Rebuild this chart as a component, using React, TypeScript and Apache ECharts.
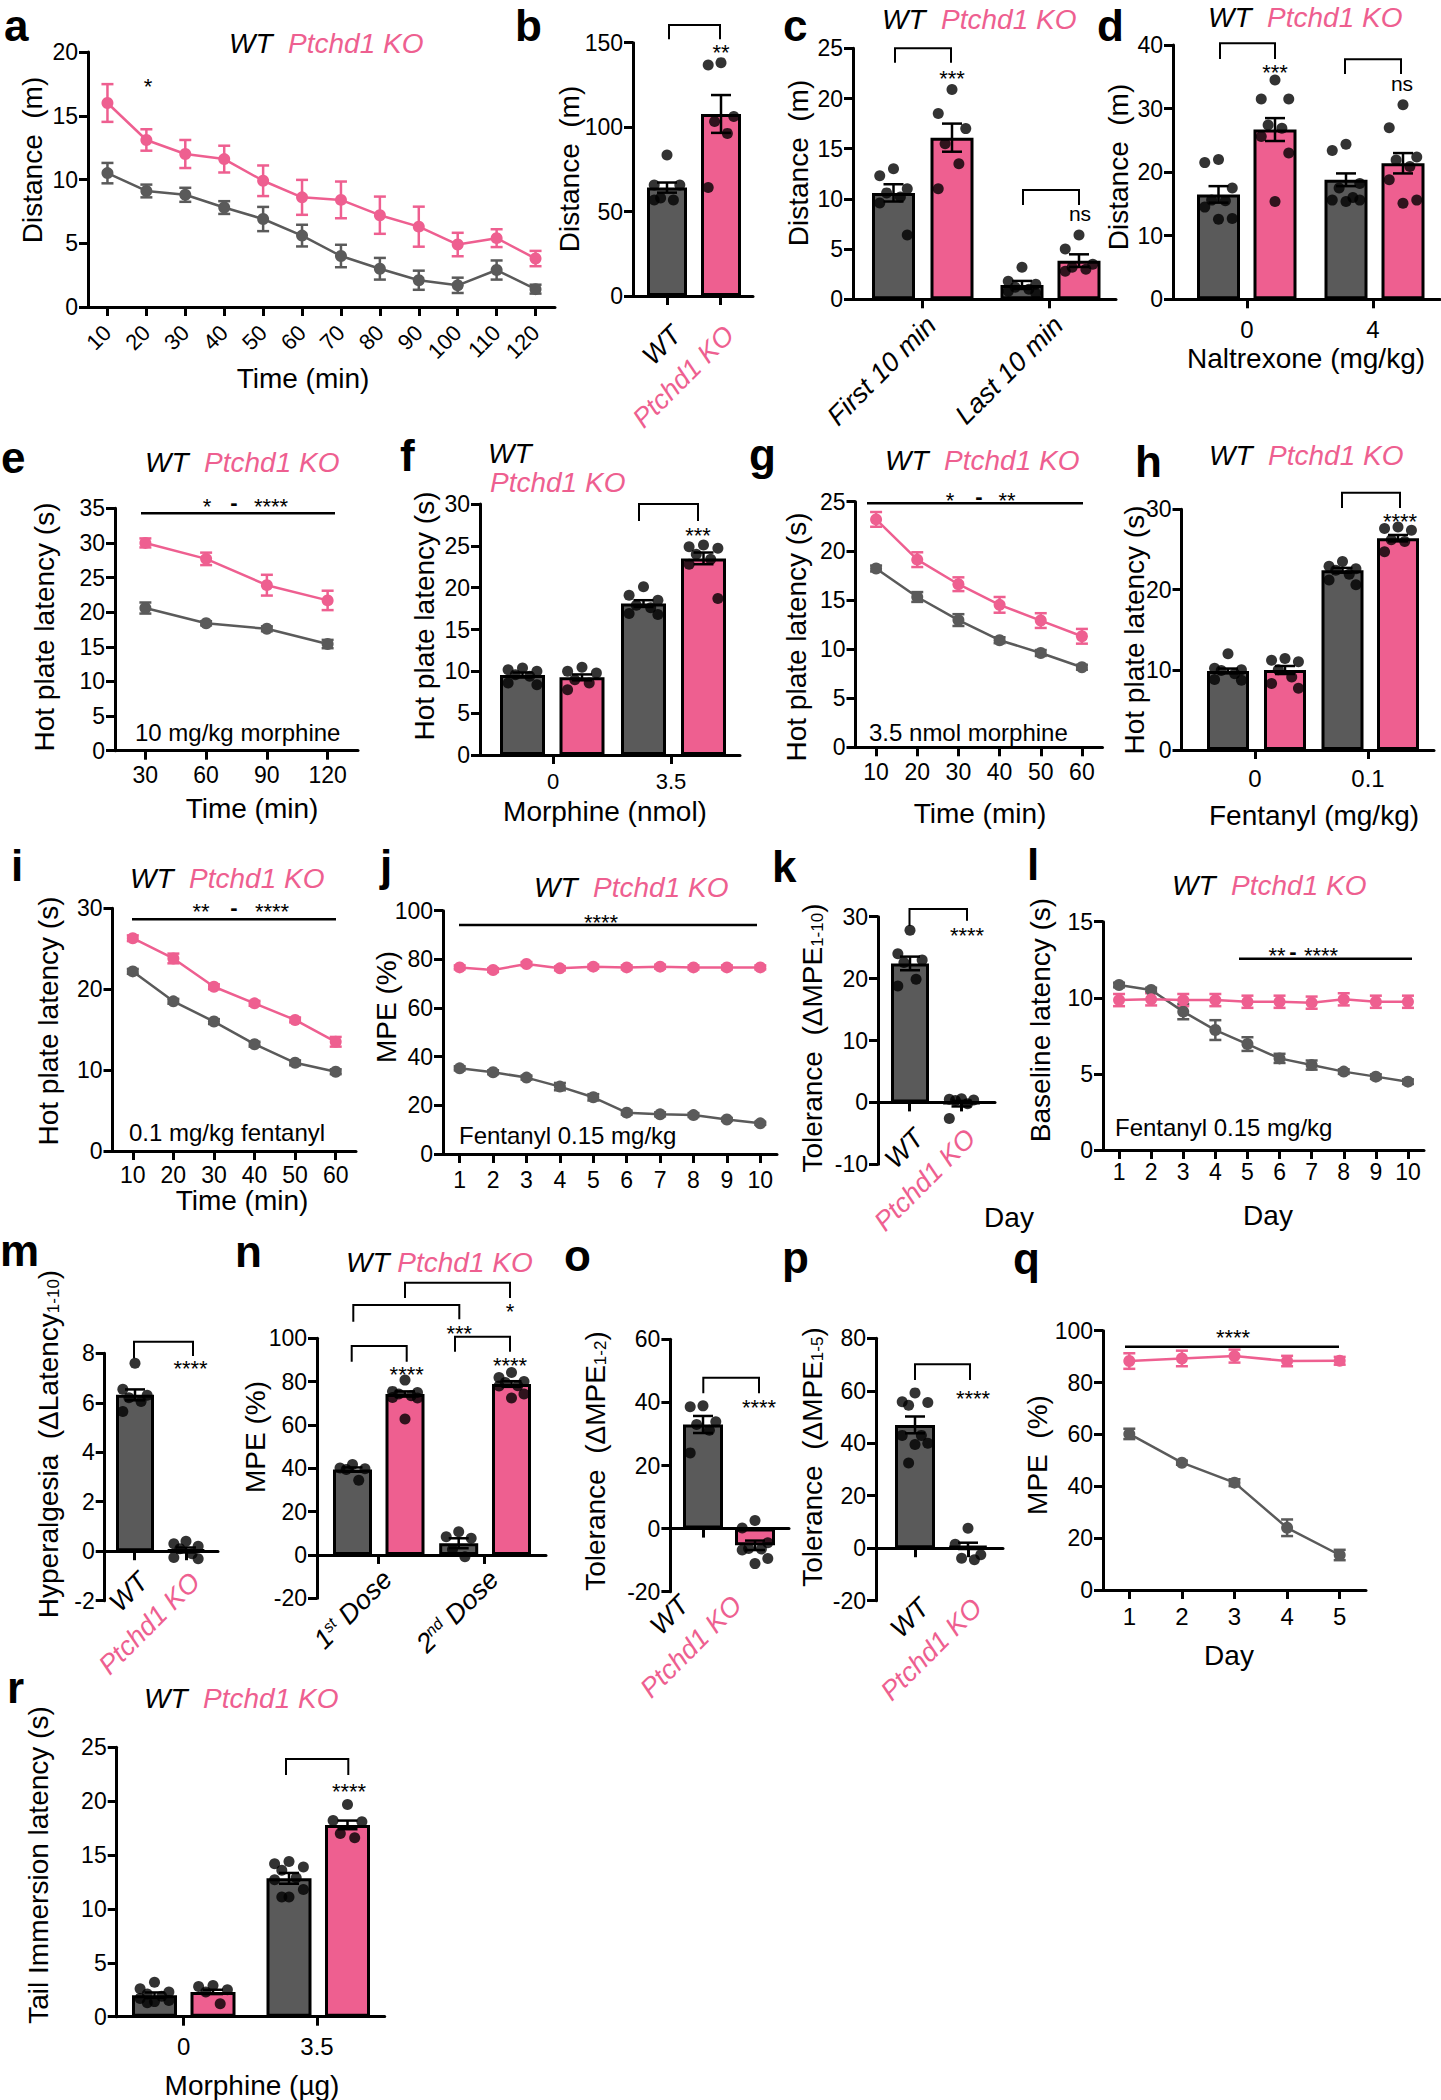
import React, { useEffect, useRef } from "react";
import * as echarts from "echarts";

const PINK = "#EE5F90";
const GRAY = "#5A5A5A";
const BLACK = "#000000";
const FONT = '"Liberation Sans", Arial, Helvetica, sans-serif';
const SP2 = "\u00A0\u00A0";

// ---------------- a ----------------
const aTime = ["10", "20", "30", "40", "50", "60", "70", "80", "90", "100", "110", "120"];
const aWT = [10.5, 9.1, 8.8, 7.8, 6.9, 5.6, 4.0, 3.0, 2.1, 1.7, 2.9, 1.4];
const aWTErr = [0.8, 0.5, 0.55, 0.5, 0.95, 0.85, 0.88, 0.85, 0.75, 0.6, 0.75, 0.35];
const aKO = [16.0, 13.1, 12.0, 11.6, 9.9, 8.6, 8.4, 7.2, 6.3, 4.9, 5.4, 3.8];
const aKOErr = [1.48, 0.84, 1.1, 1.05, 1.2, 1.37, 1.44, 1.46, 1.57, 0.92, 0.7, 0.6];

// ---------------- b ----------------
const genoLabels = ["WT", "Ptchd1 KO"];
const bMean = [64.2, 107.8];
const bSE = [3.0, 11.2];
const bWTDots = [83.5, 65.7, 65.7, 58.0, 56.8, 56.8];
const bKODots = [138.2, 136.8, 106.3, 103.3, 96.3, 64.2];

// ---------------- c ----------------
const cGroups = ["First 10 min", "Last 10 min"];
const cWTMean = [10.6, 1.43];
const cWTSE = [0.86, 0.4];
const cKOMean = [16.1, 3.85];
const cKOSE = [1.4, 0.63];
const cWTFirst = [13.0, 12.3, 11.0, 10.6, 10.2, 9.6, 6.4];
const cKOFirst = [20.9, 18.5, 17.0, 15.5, 13.5, 11.0];
const cWTLast = [3.2, 1.8, 1.5, 1.2, 1.0, 0.8, 0.6];
const cKOLast = [6.4, 5.0, 3.5, 3.2, 3.0, 2.8];

// ---------------- d ----------------
const dDoses = ["0", "4"];
const dWTMean = [16.5, 18.8];
const dWTSE = [1.3, 1.0];
const dKOMean = [26.7, 21.4];
const dKOSE = [1.8, 1.6];
const dWT0 = [22.0, 21.5, 17.5, 15.6, 15.5, 14.5, 12.7, 12.6];
const dKO0 = [34.5, 31.5, 31.5, 27.4, 26.9, 25.6, 23.0, 15.4];
const dWT4 = [24.4, 23.4, 18.2, 17.5, 16.0, 15.6, 15.6, 15.4];
const dKO4 = [30.6, 27.0, 22.4, 21.9, 20.9, 18.8, 15.6, 15.1];

// ---------------- e ----------------
const eTime = ["30", "60", "90", "120"];
const eWT = [20.6, 18.4, 17.6, 15.4];
const eWTErr = [0.8, 0.3, 0.35, 0.6];
const eKO = [30.0, 27.7, 23.9, 21.7];
const eKOErr = [0.65, 0.9, 1.5, 1.4];

// ---------------- f ----------------
const fDoses = ["0", "3.5"];
const fWTMean = [9.56, 18.1];
const fWTSE = [0.3, 0.4];
const fKOMean = [9.28, 23.5];
const fKOSE = [0.35, 0.7];
const fWT0 = [10.4, 10.2, 10.0, 9.6, 9.4, 8.6, 8.4];
const fKO0 = [10.5, 10.0, 9.8, 9.0, 8.6, 7.8];
const fWT35 = [20.1, 19.1, 18.5, 17.9, 17.6, 16.9, 16.8];
const fKO35 = [25.1, 24.9, 24.7, 24.0, 23.4, 22.8, 18.7];

// ---------------- g ----------------
const gTime = ["10", "20", "30", "40", "50", "60"];
const gWT = [18.2, 15.3, 12.95, 10.9, 9.6, 8.15];
const gWTErr = [0.3, 0.5, 0.6, 0.3, 0.3, 0.25];
const gKO = [23.2, 19.1, 16.6, 14.5, 12.9, 11.3];
const gKOErr = [0.75, 0.75, 0.7, 0.8, 0.75, 0.75];

// ---------------- h ----------------
const hDoses = ["0", "0.1"];
const hWTMean = [9.85, 22.4];
const hWTSE = [0.3, 0.3];
const hKOMean = [9.97, 26.4];
const hKOSE = [0.5, 0.4];
const hWT0 = [12.0, 10.2, 10.0, 9.9, 9.5, 8.8, 8.7];
const hKO0 = [11.4, 11.2, 11.0, 10.0, 9.1, 8.3, 7.7];
const hWT01 = [23.5, 22.9, 22.6, 22.4, 21.9, 21.2, 20.6];
const hKO01 = [27.8, 27.6, 27.4, 26.2, 26.0, 24.7];

// ---------------- i ----------------
const iTime = ["10", "20", "30", "40", "50", "60"];
const iWT = [22.2, 18.5, 16.0, 13.2, 10.9, 9.8];
const iWTErr = [0.3, 0.3, 0.3, 0.3, 0.3, 0.3];
const iKO = [26.3, 23.8, 20.3, 18.25, 16.2, 13.5];
const iKOErr = [0.35, 0.6, 0.3, 0.3, 0.3, 0.6];

// ---------------- j ----------------
const days10 = ["1", "2", "3", "4", "5", "6", "7", "8", "9", "10"];
const jKO = [76.7, 75.6, 78.1, 76.3, 77.0, 76.7, 77.0, 76.7, 76.7, 76.7];
const jKOErr = [0.8, 0.8, 0.8, 0.8, 0.8, 0.8, 0.8, 0.8, 0.8, 0.8];
const jWT = [35.2, 33.6, 31.4, 27.7, 23.3, 17.0, 16.3, 16.0, 14.2, 12.6];
const jWTErr = [0.8, 0.8, 0.8, 1.5, 1.3, 0.8, 0.8, 0.8, 0.6, 0.6];

// ---------------- k ----------------
const kMean = [22.45, -0.2];
const kSE = [1.1, 0.45];
const kWTDots = [27.8, 24.0, 23.0, 22.6, 19.9, 18.8];
const kKODots = [0.6, 0.5, 0.4, 0.3, -0.2, -2.6];

// ---------------- l ----------------
const lWT = [10.84, 10.51, 9.09, 7.88, 6.96, 6.02, 5.58, 5.15, 4.82, 4.49];
const lWTErr = [0.15, 0.15, 0.5, 0.65, 0.45, 0.3, 0.3, 0.15, 0.15, 0.15];
const lKO = [9.85, 9.9, 9.85, 9.85, 9.74, 9.74, 9.68, 9.9, 9.74, 9.74];
const lKOErr = [0.4, 0.4, 0.4, 0.4, 0.4, 0.4, 0.4, 0.4, 0.4, 0.4];

// ---------------- m ----------------
const mMean = [6.32, 0.05];
const mSE = [0.22, 0.1];
const mWTDots = [7.6, 6.55, 6.3, 6.2, 6.05, 5.65];
const mKODots = [0.4, 0.3, 0.2, 0.1, -0.1, -0.25, -0.3];

// ---------------- n ----------------
const nDoses = ["1st Dose", "2nd Dose"];
const nWTMean = [39.4, 5.4];
const nWTSE = [1.0, 2.3];
const nKOMean = [74.3, 78.9];
const nKOSE = [1.2, 1.3];
const nWT1 = [41.8, 40.1, 39.8, 39.4, 34.5];
const nKO1 = [80.7, 75.5, 75.0, 74.3, 73.5, 72.7, 72.4, 62.8];
const nWT2 = [10.7, 8.4, 7.7, 2.5, -0.8];
const nKO2 = [84.2, 81.9, 80.1, 79.6, 78.1, 78.0, 74.3, 72.4];

// ---------------- o ----------------
const oMean = [33.0, -5.3];
const oSE = [2.7, 1.5];
const oWTDots = [38.9, 38.6, 33.9, 33.0, 31.2, 24.0];
const oKODots = [2.6, 0.2, -4.5, -6.3, -6.5, -6.8, -9.5, -11.1];

// ---------------- p ----------------
const pMean = [47.0, 0.9];
const pSE = [3.2, 1.2];
const pWTDots = [59.2, 55.8, 55.5, 54.5, 43.0, 43.0, 40.0, 39.5, 32.5];
const pKODots = [7.6, 1.5, -2.5, -3.8, -4.4];

// ---------------- q ----------------
const days5 = ["1", "2", "3", "4", "5"];
const qKO = [88.3, 89.3, 90.2, 88.3, 88.4];
const qKOErr = [3.0, 3.0, 2.5, 2.0, 1.5];
const qWT = [60.2, 49.1, 41.4, 24.0, 13.5];
const qWTErr = [2.0, 0.8, 1.3, 3.2, 2.0];

// ---------------- r ----------------
const rDoses = ["0", "3.5"];
const rWTMean = [2.0, 12.84];
const rWTSE = [0.25, 0.5];
const rKOMean = [2.3, 17.8];
const rKOSE = [0.2, 0.4];
const rWT0 = [3.2, 2.6, 2.3, 2.1, 1.9, 1.7, 1.5, 1.4, 1.3];
const rKO0 = [2.9, 2.8, 2.5, 2.3, 1.2];
const rWT35 = [14.4, 14.2, 13.9, 13.6, 12.9, 12.7, 11.8, 11.1, 11.1];
const rKO35 = [19.7, 18.2, 18.1, 17.0, 16.6];

type Geo = { left: number; top: number; width: number; height: number };
type Bar = { x: number; mean: number; se: number; color: string; dots: number[] };

const JIT = [0, -1, 1, -0.5, 0.5, -1, 1, 0, -0.5, 0.5];

function B(x: number, mean: number, se: number, color: string, dots: number[]): Bar {
  return { x, mean, se, color, dots };
}

function buildOption() {
  const grid: any[] = [];
  const xAxis: any[] = [];
  const yAxis: any[] = [];
  const series: any[] = [];
  const g: any[] = [];

  const axisLineStyle = { color: BLACK, width: 3 };
  const tickStyle = { show: true, length: 9, lineStyle: { color: BLACK, width: 3 } };

  function makeRich(pad: number, numSize: number) {
    const p = [0, pad, 0, 0];
    return {
      wt: { color: BLACK, fontStyle: "italic", fontSize: 27, fontFamily: FONT, padding: p },
      ko: { color: PINK, fontStyle: "italic", fontSize: 27, fontFamily: FONT, padding: p },
      it: { color: BLACK, fontStyle: "italic", fontSize: 27, fontFamily: FONT },
      sup: { color: BLACK, fontStyle: "italic", fontSize: 16, fontFamily: FONT, verticalAlign: "top" },
      num: { color: BLACK, fontSize: numSize, fontFamily: FONT },
    };
  }
  function richLabel(s: string): string {
    if (s === "WT") return "{wt|WT}";
    if (s === "Ptchd1 KO") return "{ko|Ptchd1 KO}";
    const m = s.match(/^(\d)(st|nd|rd|th) (.*)$/);
    if (m) return "{it|" + m[1] + "}{sup|" + m[2] + "}{it| " + m[3] + "}";
    if (/^[\d.]+$/.test(s)) return "{num|" + s + "}";
    return "{it|" + s + "}";
  }

  function addGrid(geo: Geo) {
    grid.push({ left: geo.left, top: geo.top, width: geo.width, height: geo.height, containLabel: false });
    return grid.length - 1;
  }
  function addY(gi: number, min: number, max: number, interval: number) {
    yAxis.push({
      gridIndex: gi,
      type: "value",
      min,
      max,
      interval,
      axisLine: { show: true, onZero: false, lineStyle: axisLineStyle },
      axisTick: tickStyle,
      axisLabel: { color: BLACK, fontSize: 23, fontFamily: FONT, margin: 10 },
      splitLine: { show: false },
    });
  }
  function errSeries(ai: number, data: number[][], color: string, cap: number, lw: number, z: number) {
    series.push({
      type: "custom",
      xAxisIndex: ai,
      yAxisIndex: ai,
      data,
      z,
      silent: true,
      encode: { x: 0, y: 1 },
      renderItem: (params: any, api: any) => {
        const x = api.value(0);
        const m = api.value(1);
        const e = api.value(2);
        const hi = api.coord([x, m + e]);
        const lo = api.coord([x, m - e]);
        const h = cap / 2;
        const st = { stroke: color, lineWidth: lw };
        return {
          type: "group",
          children: [
            { type: "line", shape: { x1: hi[0], y1: hi[1], x2: lo[0], y2: lo[1] }, style: st },
            { type: "line", shape: { x1: hi[0] - h, y1: hi[1], x2: hi[0] + h, y2: hi[1] }, style: st },
            { type: "line", shape: { x1: lo[0] - h, y1: lo[1], x2: lo[0] + h, y2: lo[1] }, style: st },
          ],
        };
      },
    });
  }

  function linePanel(p: {
    geo: Geo; cats: string[]; ymin: number; ymax: number; yint: number;
    wt: number[]; wtErr: number[]; ko: number[]; koErr: number[];
    rotate?: number; margin?: number; labelSize?: number;
  }) {
    const gi = addGrid(p.geo);
    xAxis.push({
      gridIndex: gi,
      type: "category",
      data: p.cats,
      boundaryGap: true,
      axisLine: { show: true, onZero: true, lineStyle: axisLineStyle },
      axisTick: { ...tickStyle, alignWithLabel: true, interval: 0 },
      axisLabel: {
        color: BLACK, fontSize: p.labelSize ?? 23, fontFamily: FONT,
        margin: p.margin ?? 13, rotate: p.rotate ?? 0, interval: 0,
      },
      splitLine: { show: false },
    });
    addY(gi, p.ymin, p.ymax, p.yint);
    errSeries(gi, p.wt.map((v, i) => [i, v, p.wtErr[i]]), GRAY, 12, 2.5, 3);
    errSeries(gi, p.ko.map((v, i) => [i, v, p.koErr[i]]), PINK, 12, 2.5, 3);
    series.push({
      type: "line", name: "WT", xAxisIndex: gi, yAxisIndex: gi, data: p.wt,
      symbol: "circle", symbolSize: 12, itemStyle: { color: GRAY },
      lineStyle: { color: GRAY, width: 2.5 }, z: 4, silent: true,
    });
    series.push({
      type: "line", name: "Ptchd1 KO", xAxisIndex: gi, yAxisIndex: gi, data: p.ko,
      symbol: "circle", symbolSize: 12, itemStyle: { color: PINK },
      lineStyle: { color: PINK, width: 2.5 }, z: 4, silent: true,
    });
  }

  function barPanel(p: {
    geo: Geo; ymin: number; ymax: number; yint: number;
    ticks: number[]; labels: string[]; bars: Bar[]; bw: number;
    rotate?: number; margin?: number; pad?: number; numSize?: number;
  }) {
    const gi = addGrid(p.geo);
    const rot = p.rotate ?? 0;
    const labelCfg: any = {
      customValues: p.ticks,
      formatter: (v: number) => {
        let k = 0;
        p.ticks.forEach((t, i) => {
          if (Math.abs(t - v) < Math.abs(p.ticks[k] - v)) k = i;
        });
        return richLabel(p.labels[k]);
      },
      rich: makeRich(p.pad ?? 0, p.numSize ?? 24),
      rotate: rot,
      margin: p.margin ?? 12,
      fontFamily: FONT,
    };
    if (rot) {
      labelCfg.align = "right";
      labelCfg.verticalAlign = "top";
    }
    xAxis.push({
      gridIndex: gi,
      type: "value",
      min: 0,
      max: p.geo.width,
      axisLine: { show: true, onZero: true, lineStyle: axisLineStyle },
      axisTick: { ...tickStyle, customValues: p.ticks },
      axisLabel: labelCfg,
      splitLine: { show: false },
    });
    addY(gi, p.ymin, p.ymax, p.yint);
    series.push({
      type: "bar",
      xAxisIndex: gi,
      yAxisIndex: gi,
      barWidth: p.bw,
      data: p.bars.map((b) => ({ value: [b.x, b.mean], itemStyle: { color: b.color } })),
      itemStyle: { borderColor: BLACK, borderWidth: 3 },
      z: 2,
      silent: true,
    });
    errSeries(gi, p.bars.map((b) => [b.x, b.mean, b.se]), BLACK, 20, 2.5, 3);
    const dots: number[][] = [];
    p.bars.forEach((b) => {
      b.dots.forEach((v, i) => dots.push([b.x + JIT[i % JIT.length] * p.bw * 0.32, v]));
    });
    series.push({
      type: "scatter",
      xAxisIndex: gi,
      yAxisIndex: gi,
      symbolSize: 11,
      itemStyle: { color: BLACK },
      data: dots,
      z: 5,
      silent: true,
    });
  }

  // ---------- graphic helpers ----------
  function text(x: number, y: number, t: string, o: any = {}) {
    const style: any = {
      text: t,
      fill: o.fill ?? BLACK,
      fontSize: o.size ?? 28,
      fontFamily: FONT,
      fontWeight: o.bold ? "bold" : "normal",
      fontStyle: o.italic ? "italic" : "normal",
      textAlign: o.align ?? "center",
      textVerticalAlign: o.va ?? "middle",
      align: o.align ?? "center",
      verticalAlign: o.va ?? "middle",
    };
    if (o.rich) style.rich = o.rich;
    g.push({ type: "text", x, y, rotation: o.rot ?? 0, silent: true, z: 100, style });
  }
  const titleRich = {
    w: { fill: BLACK, fontSize: 28, fontStyle: "italic", fontFamily: FONT },
    k: { fill: PINK, fontSize: 28, fontStyle: "italic", fontFamily: FONT },
  };
  function title(x: number, y: number, gap = SP2) {
    text(x, y, "{w|WT}{k|" + gap + "Ptchd1 KO}", { align: "left", rich: titleRich });
  }
  function letter(x: number, y: number, ch: string) {
    text(x, y, ch, { align: "left", size: 44, bold: true });
  }
  function yName(x: number, y: number, t: string) {
    text(x, y, t, { rot: Math.PI / 2, size: 28 });
  }
  const subRich = {
    a: { fill: BLACK, fontSize: 28, fontFamily: FONT },
    s: { fill: BLACK, fontSize: 17, fontFamily: FONT, verticalAlign: "bottom" },
  };
  function yNameSub(x: number, y: number, main: string, sub: string) {
    text(x, y, "{a|" + main + "}{s|" + sub + "}{a|)}", { rot: Math.PI / 2, rich: subRich });
  }
  function xName(x: number, y: number, t: string) {
    text(x, y, t, { size: 28 });
  }
  function note(x: number, y: number, t: string) {
    text(x, y, t, { align: "left", size: 24 });
  }
  function sig(x: number, y: number, t: string) {
    if (t.indexOf("*") >= 0) text(x, y + 0.22 * 22, t, { size: 22 });
    else if (t === "ns") text(x, y - 2, t, { size: 21 });
    else text(x, y, t, { size: 22, bold: true });
  }
  function bracket(x1: number, x2: number, yTop: number, yL: number, yR: number) {
    g.push({
      type: "polyline", silent: true, z: 100,
      shape: { points: [[x1, yL], [x1, yTop], [x2, yTop], [x2, yR]] },
      style: { stroke: BLACK, lineWidth: 2, fill: null },
    });
  }
  function hline(x1: number, x2: number, y: number) {
    g.push({
      type: "line", silent: true, z: 100,
      shape: { x1, y1: y, x2, y2: y },
      style: { stroke: BLACK, lineWidth: 2.5 },
    });
  }

  // ================= panels =================
  linePanel({ geo: { left: 88, top: 52, width: 467, height: 255 }, cats: aTime, ymin: 0, ymax: 20, yint: 5,
    wt: aWT, wtErr: aWTErr, ko: aKO, koErr: aKOErr, rotate: 45, margin: 22, labelSize: 22 });
  barPanel({ geo: { left: 633, top: 42.7, width: 120, height: 253.3 }, ymin: 0, ymax: 150, yint: 50,
    ticks: [34, 87], labels: genoLabels, bw: 40, rotate: 45, margin: 25,
    bars: [B(34, bMean[0], bSE[0], GRAY, bWTDots), B(88, bMean[1], bSE[1], PINK, bKODots)] });
  barPanel({ geo: { left: 853, top: 48.3, width: 263, height: 251 }, ymin: 0, ymax: 25, yint: 5,
    ticks: [69, 196], labels: cGroups, bw: 43, rotate: 45, margin: 12,
    bars: [B(40.5, cWTMean[0], cWTSE[0], GRAY, cWTFirst), B(99, cKOMean[0], cKOSE[0], PINK, cKOFirst),
      B(169, cWTMean[1], cWTSE[1], GRAY, cWTLast), B(226, cKOMean[1], cKOSE[1], PINK, cKOLast)] });
  barPanel({ geo: { left: 1173, top: 45, width: 267, height: 254.3 }, ymin: 0, ymax: 40, yint: 10,
    ticks: [74, 200], labels: dDoses, bw: 43, margin: 18,
    bars: [B(45.5, dWTMean[0], dWTSE[0], GRAY, dWT0), B(102, dKOMean[0], dKOSE[0], PINK, dKO0),
      B(173, dWTMean[1], dWTSE[1], GRAY, dWT4), B(230, dKOMean[1], dKOSE[1], PINK, dKO4)] });
  linePanel({ geo: { left: 115, top: 508.3, width: 243, height: 242.4 }, cats: eTime, ymin: 0, ymax: 35, yint: 5,
    wt: eWT, wtErr: eWTErr, ko: eKO, koErr: eKOErr, margin: 13 });
  barPanel({ geo: { left: 480, top: 504, width: 260, height: 251 }, ymin: 0, ymax: 30, yint: 5,
    ticks: [73, 191], labels: fDoses, bw: 45, margin: 15, numSize: 22,
    bars: [B(42.5, fWTMean[0], fWTSE[0], GRAY, fWT0), B(102, fKOMean[0], fKOSE[0], PINK, fKO0),
      B(163.5, fWTMean[1], fWTSE[1], GRAY, fWT35), B(223.5, fKOMean[1], fKOSE[1], PINK, fKO35)] });
  linePanel({ geo: { left: 855.5, top: 501.7, width: 247, height: 245.6 }, cats: gTime, ymin: 0, ymax: 25, yint: 5,
    wt: gWT, wtErr: gWTErr, ko: gKO, koErr: gKOErr, margin: 13 });
  barPanel({ geo: { left: 1181.5, top: 509.3, width: 252.5, height: 240.7 }, ymin: 0, ymax: 30, yint: 10,
    ticks: [73.5, 186.5], labels: hDoses, bw: 42, margin: 16,
    bars: [B(46.5, hWTMean[0], hWTSE[0], GRAY, hWT0), B(103.5, hKOMean[0], hKOSE[0], PINK, hKO0),
      B(161, hWTMean[1], hWTSE[1], GRAY, hWT01), B(216.5, hKOMean[1], hKOSE[1], PINK, hKO01)] });
  linePanel({ geo: { left: 112.5, top: 908.3, width: 243.5, height: 242.7 }, cats: iTime, ymin: 0, ymax: 30, yint: 10,
    wt: iWT, wtErr: iWTErr, ko: iKO, koErr: iKOErr, margin: 12 });
  linePanel({ geo: { left: 443, top: 910.7, width: 334, height: 243.3 }, cats: days10, ymin: 0, ymax: 100, yint: 20,
    wt: jWT, wtErr: jWTErr, ko: jKO, koErr: jKOErr, margin: 14 });
  barPanel({ geo: { left: 878, top: 916.7, width: 117, height: 247.6 }, ymin: -10, ymax: 30, yint: 10,
    ticks: [31.5, 83.5], labels: genoLabels, bw: 38, rotate: 45, margin: -40,
    bars: [B(32, kMean[0], kSE[0], GRAY, kWTDots), B(83.5, kMean[1], kSE[1], PINK, kKODots)] });
  linePanel({ geo: { left: 1103, top: 921.7, width: 321, height: 228.3 }, cats: days10, ymin: 0, ymax: 15, yint: 5,
    wt: lWT, wtErr: lWTErr, ko: lKO, koErr: lKOErr, margin: 10 });
  barPanel({ geo: { left: 104.7, top: 1353.3, width: 113.3, height: 247.4 }, ymin: -2, ymax: 8, yint: 2,
    ticks: [29.3, 81.3], labels: genoLabels, bw: 38, rotate: 45, margin: -33,
    bars: [B(30.3, mMean[0], mSE[0], GRAY, mWTDots), B(81.3, mMean[1], mSE[1], PINK, mKODots)] });
  barPanel({ geo: { left: 317, top: 1338.3, width: 229, height: 260 }, ymin: -20, ymax: 100, yint: 20,
    ticks: [61, 167.5], labels: nDoses, bw: 39, rotate: 45, margin: -33,
    bars: [B(35.5, nWTMean[0], nWTSE[0], GRAY, nWT1), B(88, nKOMean[0], nKOSE[0], PINK, nKO1),
      B(141.7, nWTMean[1], nWTSE[1], GRAY, nWT2), B(194.5, nKOMean[1], nKOSE[1], PINK, nKO2)] });
  barPanel({ geo: { left: 670.4, top: 1339.3, width: 118.6, height: 252.4 }, ymin: -20, ymax: 60, yint: 20,
    ticks: [32.6, 85.6], labels: genoLabels, bw: 40, rotate: 45, margin: -29, pad: 40,
    bars: [B(32.6, oMean[0], oSE[0], GRAY, oWTDots), B(84.6, oMean[1], oSE[1], PINK, oKODots)] });
  barPanel({ geo: { left: 876, top: 1338.3, width: 127, height: 262.4 }, ymin: -20, ymax: 80, yint: 20,
    ticks: [39, 92], labels: genoLabels, bw: 40, rotate: 45, margin: -7,
    bars: [B(39, pMean[0], pSE[0], GRAY, pWTDots), B(92, pMean[1], pSE[1], PINK, pKODots)] });
  linePanel({ geo: { left: 1103, top: 1330.7, width: 263, height: 259.3 }, cats: days5, ymin: 0, ymax: 100, yint: 20,
    wt: qWT, wtErr: qWTErr, ko: qKO, koErr: qKOErr, margin: 14, labelSize: 24 });
  barPanel({ geo: { left: 116.7, top: 1747.3, width: 268, height: 269.4 }, ymin: 0, ymax: 25, yint: 5,
    ticks: [67, 200.3], labels: rDoses, bw: 45, margin: 18,
    bars: [B(37.8, rWTMean[0], rWTSE[0], GRAY, rWT0), B(96.3, rKOMean[0], rKOSE[0], PINK, rKO0),
      B(172.3, rWTMean[1], rWTSE[1], GRAY, rWT35), B(230.8, rKOMean[1], rKOSE[1], PINK, rKO35)] });

  // ---------- panel letters ----------
  const letters: [string, number, number][] = [
    ["a", 4, 25], ["b", 515, 25], ["c", 783, 25], ["d", 1097, 25], ["e", 1, 457], ["f", 400, 455],
    ["g", 749, 454], ["h", 1135, 461], ["i", 11, 865], ["j", 380, 865], ["k", 772, 866], ["l", 1027, 864],
    ["m", 0, 1250], ["n", 235, 1251], ["o", 564, 1255], ["p", 782, 1257], ["q", 1013, 1258], ["r", 7, 1687],
  ];
  letters.forEach(([c, x, y]) => letter(x, y, c));

  // ---------- genotype titles ----------
  title(229, 43);
  title(882, 19);
  title(1208, 17);
  title(145, 462);
  text(488, 453, "WT", { align: "left", size: 28, italic: true });
  text(490, 482, "Ptchd1 KO", { align: "left", size: 28, italic: true, fill: PINK });
  title(885, 460);
  title(1209, 455);
  title(130, 878);
  title(534, 887);
  title(1172, 885);
  title(346, 1262, " ");
  title(144, 1698);

  // ---------- y-axis names ----------
  yName(32, 160, "Distance" + SP2 + "(m)");
  yName(569, 169, "Distance" + SP2 + "(m)");
  yName(798, 163, "Distance" + SP2 + "(m)");
  yName(1118, 167, "Distance" + SP2 + "(m)");
  yName(44, 627, "Hot plate latency (s)");
  yName(424, 616, "Hot plate latency (s)");
  yName(796, 637, "Hot plate latency (s)");
  yName(1134, 630, "Hot plate latency (s)");
  yName(48, 1021, "Hot plate latency (s)");
  yName(386, 1007, "MPE (%)");
  yNameSub(812, 1038, "Tolerance" + SP2 + "(ΔMPE", "1-10");
  yName(1040, 1020, "Baseline latency (s)");
  yNameSub(48, 1444, "Hyperalgesia" + SP2 + "(ΔLatency", "1-10");
  yName(255, 1437, "MPE (%)");
  yNameSub(595, 1461, "Tolerance" + SP2 + "(ΔMPE", "1-2");
  yNameSub(812, 1457, "Tolerance" + SP2 + "(ΔMPE", "1-5");
  yName(1037, 1455, "MPE" + SP2 + "(%)");
  yName(38, 1865, "Tail Immersion latency (s)");

  // ---------- x-axis names ----------
  xName(303, 378, "Time (min)");
  xName(1306, 358, "Naltrexone (mg/kg)");
  xName(252, 808, "Time (min)");
  xName(605, 811, "Morphine (nmol)");
  xName(980, 813, "Time (min)");
  xName(1314, 815, "Fentanyl (mg/kg)");
  xName(242, 1200, "Time (min)");
  xName(1009, 1217, "Day");
  xName(1268, 1215, "Day");
  xName(1229, 1655, "Day");
  xName(252, 2085, "Morphine (µg)");

  // ---------- in-plot notes ----------
  note(135, 732, "10 mg/kg morphine");
  note(869, 732, "3.5 nmol morphine");
  note(129, 1132, "0.1 mg/kg fentanyl");
  note(459, 1135, "Fentanyl 0.15 mg/kg");
  note(1115, 1127, "Fentanyl 0.15 mg/kg");

  // ---------- significance ----------
  sig(148, 82, "*");
  bracket(669, 720, 25, 39.3, 39.3); sig(721, 48, "**");
  bracket(895, 951, 48.3, 62.7, 62.7); sig(952, 74, "***");
  bracket(1023, 1079, 190, 205, 205); sig(1080, 215, "ns");
  bracket(1220, 1275, 43.3, 59, 59); sig(1275, 68, "***");
  bracket(1345, 1401, 59.3, 74, 74); sig(1402, 85, "ns");
  hline(141, 335, 513.3); sig(207, 502, "*"); sig(234, 502, "-"); sig(271, 502, "****");
  bracket(639, 698, 504, 521, 521); sig(698, 531, "***");
  hline(867, 1083, 503.3); sig(950, 496, "*"); sig(979, 496, "-"); sig(1007, 496, "**");
  bracket(1342, 1400, 492.7, 508, 508); sig(1400, 517, "****");
  hline(132, 336, 919.3); sig(201, 907, "**"); sig(234, 907, "-"); sig(272, 907, "****");
  hline(459, 757, 925); sig(601, 918, "****");
  bracket(909.5, 967, 909, 926, 920.7); sig(967, 931, "****");
  hline(1239, 1412, 958.7); sig(1277, 951, "**"); sig(1293, 951, "-"); sig(1321, 951, "****");
  bracket(134, 193, 1341.7, 1358.3, 1356); sig(190.5, 1364, "****");
  bracket(405, 510, 1282.7, 1298, 1298); sig(510, 1306.7, "*");
  bracket(353.3, 459.3, 1305, 1321.7, 1319.3); sig(459.3, 1328.3, "***");
  bracket(455, 510, 1336.7, 1351.7, 1351.7); sig(510, 1360.7, "****");
  bracket(351.7, 406.7, 1346, 1361.7, 1361.7); sig(406.7, 1369.3, "****");
  bracket(703.3, 759, 1377.7, 1393.3, 1393.3); sig(759, 1402.7, "****");
  bracket(915, 970, 1364.3, 1380, 1380); sig(973, 1394, "****");
  hline(1125, 1339, 1346.7); sig(1233, 1333, "****");
  bracket(286, 348.3, 1759, 1775, 1775); sig(349, 1786.7, "****");

  return {
    animation: false,
    backgroundColor: "#ffffff",
    textStyle: { fontFamily: FONT },
    grid,
    xAxis,
    yAxis,
    series,
    graphic: { elements: g },
  };
}

export default function App() {
  const ref = useRef<HTMLDivElement>(null);
  useEffect(() => {
    if (!ref.current) return;
    const chart = echarts.init(ref.current, undefined, { renderer: "svg" });
    chart.setOption(buildOption() as any);
    return () => {
      chart.dispose();
    };
  }, []);
  return (
    <div
      ref={ref}
      style={{ position: "absolute", left: 0, top: 0, width: 1441, height: 2100, background: "#ffffff" }}
    />
  );
}
